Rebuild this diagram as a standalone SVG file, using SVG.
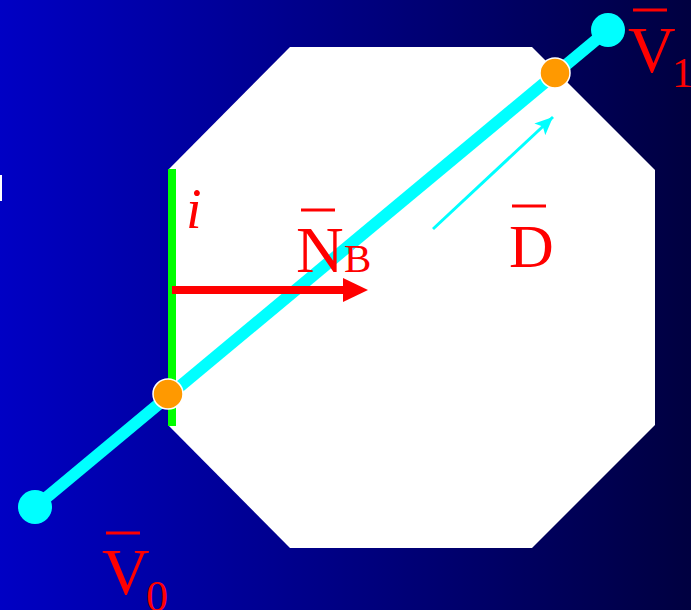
<svg xmlns="http://www.w3.org/2000/svg" width="691" height="610" viewBox="0 0 691 610">
<defs>
<linearGradient id="bg" x1="0" y1="0" x2="1" y2="0">
<stop offset="0" stop-color="#0000c4"/>
<stop offset="1" stop-color="#000040"/>
</linearGradient>
<marker id="cyanHead" markerUnits="userSpaceOnUse" markerWidth="20" markerHeight="16" refX="18" refY="8" orient="auto">
<path d="M0,0 L18,8 L0,16 L4,8 Z" fill="#00ffff"/>
</marker>
</defs>
<style>
.lbl{fill:#ff0000;font-family:"Liberation Serif","Times New Roman",serif}
.bar{stroke:#ff0000;stroke-width:3}
.end{fill:#00ffff}
.pt{fill:#ff9900;stroke:#ffffff;stroke-width:1.5}
</style>
<rect x="0" y="0" width="691" height="610" fill="url(#bg)"/>
<rect x="0" y="175" width="2" height="26" fill="#ffffff"/>
<g id="octagon">
<polygon points="290,47 532,47 655,170 655,425 532,548 290,548 168,425 168,170" fill="#ffffff"/>
</g>
<g id="edge-i">
<rect x="168" y="169" width="8" height="257" fill="#00ff00"/>
</g>
<g id="connectors">
<line x1="35" y1="507" x2="608" y2="30" stroke="#00ffff" stroke-width="12"/>
<line x1="172" y1="290" x2="346" y2="290" stroke="#ff0000" stroke-width="8"/>
<polygon points="343,278 368,290 343,302" fill="#ff0000"/>
<line x1="433" y1="229" x2="553" y2="117" stroke="#00ffff" stroke-width="3" marker-end="url(#cyanHead)"/>
</g>
<g id="V0">
<circle cx="35" cy="507" r="17" class="end"/>
<line x1="106" y1="533" x2="140" y2="533" class="bar"/>
<text x="102" y="594" class="lbl" font-size="66">V</text>
<text x="146" y="611" class="lbl" font-size="44">0</text>
</g>
<g id="V1">
<circle cx="608" cy="30" r="17" class="end"/>
<line x1="633" y1="10" x2="667" y2="10" class="bar"/>
<text x="628" y="72" class="lbl" font-size="66">V</text>
<text x="672" y="87" class="lbl" font-size="42">1</text>
</g>
<g id="intersections">
<circle cx="168" cy="394" r="15" class="pt"/>
<circle cx="555" cy="73" r="15" class="pt"/>
</g>
<g id="label-i">
<text x="186" y="228" class="lbl" font-size="56" font-style="italic">i</text>
</g>
<g id="label-NB">
<line x1="301" y1="210" x2="335" y2="210" class="bar"/>
<text x="296" y="272" class="lbl" font-size="66">N</text>
<text x="344" y="272" class="lbl" font-size="41">B</text>
</g>
<g id="label-D">
<line x1="512" y1="206" x2="546" y2="206" class="bar"/>
<text x="509" y="267" class="lbl" font-size="62">D</text>
</g>
</svg>
